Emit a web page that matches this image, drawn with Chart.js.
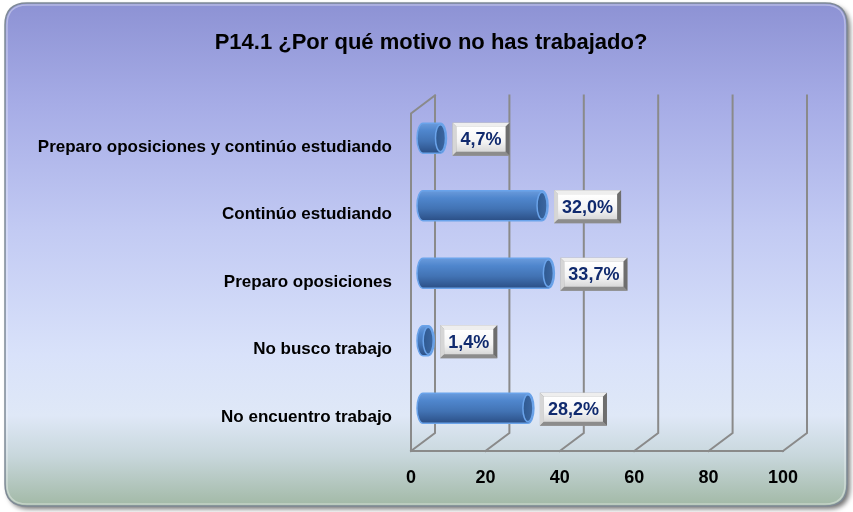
<!DOCTYPE html>
<html>
<head>
<meta charset="utf-8">
<script src="https://cdn.jsdelivr.net/npm/chart.js@4.4.1/dist/chart.umd.min.js"></script>
<style>
  html, body { margin: 0; padding: 0; background: #fff; }
  #wrap { width: 853px; height: 512px; }
</style>
</head>
<body>
<div id="wrap"><canvas id="chart"></canvas></div>
<script>
const categories = [
    'Preparo oposiciones y continúo estudiando',
    'Continúo estudiando',
    'Preparo oposiciones',
    'No busco trabajo',
    'No encuentro trabajo'
];
const values = [4.7, 32.0, 33.7, 1.4, 28.2];
const xTicks = [0, 20, 40, 60, 80, 100];
const titleText = 'P14.1 ¿Por qué motivo no has trabajado?';

const FONT = "'Liberation Sans', Arial, sans-serif";
const DX = 12, DY = 9; // depth offset of the 3d walls

const fmt = (v) => v.toFixed(1).replace('.', ',') + '%';

const roundRect = (ctx, x, y, w, h, r) => {
    ctx.beginPath();
    ctx.moveTo(x + r, y);
    ctx.lineTo(x + w - r, y);
    ctx.quadraticCurveTo(x + w, y, x + w, y + r);
    ctx.lineTo(x + w, y + h - r);
    ctx.quadraticCurveTo(x + w, y + h, x + w - r, y + h);
    ctx.lineTo(x + r, y + h);
    ctx.quadraticCurveTo(x, y + h, x, y + h - r);
    ctx.lineTo(x, y + r);
    ctx.quadraticCurveTo(x, y, x + r, y);
    ctx.closePath();
};

const backgroundPlugin = {
    id: 'bg',
    beforeDraw(chart) {
        const ctx = chart.ctx;
        ctx.save();
        ctx.fillStyle = '#ffffff';
        ctx.fillRect(0, 0, chart.width, chart.height);

        const x = 5, y = 3, w = 842, h = 503;
        ctx.shadowColor = 'rgba(0,0,0,0.55)';
        ctx.shadowBlur = 5;
        ctx.shadowOffsetX = 3;
        ctx.shadowOffsetY = 3;
        roundRect(ctx, x, y, w, h, 22);
        const g = ctx.createLinearGradient(0, y, 0, y + h);
        g.addColorStop(0, '#8d92d4');
        g.addColorStop(0.2, '#a6ace6');
        g.addColorStop(0.45, '#c2caf3');
        g.addColorStop(0.7, '#d9e2fa');
        g.addColorStop(0.82, '#dfe8f7');
        g.addColorStop(0.9, '#c8d7dc');
        g.addColorStop(1, '#a2b9a6');
        ctx.fillStyle = g;
        ctx.fill();
        ctx.shadowColor = 'transparent';
        ctx.lineWidth = 1.5;
        ctx.strokeStyle = '#7f8a96';
        ctx.stroke();

        // light inner rim
        roundRect(ctx, x + 2, y + 2, w - 4, h - 4, 20);
        ctx.lineWidth = 1.5;
        ctx.strokeStyle = 'rgba(255,255,255,0.35)';
        ctx.stroke();
        ctx.restore();
    },
    beforeDatasetsDraw(chart) {
        const ctx = chart.ctx;
        const xs = chart.scales.x;
        const area = chart.chartArea;
        const top = area.top, bottom = area.bottom;
        ctx.save();
        ctx.strokeStyle = '#8a8a8a';
        ctx.lineWidth = 2;
        ctx.lineCap = 'square';
        ctx.beginPath();
        // back wall verticals and floor diagonals
        xs.ticks.forEach(t => {
            const px = xs.getPixelForValue(t.value);
            ctx.moveTo(px + DX, top - DY);
            ctx.lineTo(px + DX, bottom - DY);
            ctx.lineTo(px - DX, bottom + DY);
        });
        // front floor edge
        const x0 = xs.getPixelForValue(xTicks[0]);
        const x1 = xs.getPixelForValue(xTicks[xTicks.length - 1]);
        ctx.moveTo(x0 - DX, bottom + DY);
        ctx.lineTo(x1 - DX, bottom + DY);
        // left side wall
        ctx.moveTo(x0 - DX, bottom + DY);
        ctx.lineTo(x0 - DX, top + DY);
        ctx.lineTo(x0 + DX, top - DY);
        ctx.stroke();
        ctx.restore();
    }
};

const cylinderPlugin = {
    id: 'cylinders',
    afterDatasetsDraw(chart) {
        const ctx = chart.ctx;
        const meta = chart.getDatasetMeta(0);
        ctx.save();
        meta.data.forEach((bar, i) => {
            const { x, y, base, height } = bar.getProps(['x', 'y', 'base', 'height'], true);
            const ry = height / 2, rx = 6;
            const t = y - ry, b = y + ry;

            // body
            const g = ctx.createLinearGradient(0, t, 0, b);
            g.addColorStop(0, '#6a9bdc');
            g.addColorStop(0.25, '#4f86cd');
            g.addColorStop(0.6, '#4273b4');
            g.addColorStop(1, '#2b4f86');
            ctx.beginPath();
            ctx.moveTo(base, t);
            ctx.lineTo(x, t);
            ctx.ellipse(x, y, rx, ry, 0, -Math.PI / 2, Math.PI / 2, false);
            ctx.lineTo(base, b);
            ctx.ellipse(base, y, rx, ry, 0, Math.PI / 2, Math.PI * 1.5, false);
            ctx.closePath();
            ctx.fillStyle = g;
            ctx.fill();
            ctx.lineWidth = 1.5;
            ctx.strokeStyle = '#6aa3ea';
            ctx.stroke();

            // end cap
            ctx.beginPath();
            ctx.ellipse(x, y, rx - 1, ry - 1.5, 0, 0, Math.PI * 2);
            const cg = ctx.createLinearGradient(x - rx, 0, x + rx, 0);
            cg.addColorStop(0, '#2d5890');
            cg.addColorStop(1, '#3e68a2');
            ctx.fillStyle = cg;
            ctx.fill();
            ctx.strokeStyle = '#6aa3ea';
            ctx.lineWidth = 1.5;
            ctx.stroke();

            // value box
            const label = fmt(values[i]);
            ctx.font = 'bold 18px ' + FONT;
            const tw = ctx.measureText(label).width;
            const bw = tw + 16, bh = 33;
            const bx = x + rx + 6, by = y - bh / 2 + 1;
            const bev = 4;
            ctx.fillStyle = '#9a9a9a';
            ctx.fillRect(bx, by, bw, bh);
            const face = (pts, col) => {
                ctx.beginPath();
                ctx.moveTo(pts[0][0], pts[0][1]);
                pts.slice(1).forEach(p => ctx.lineTo(p[0], p[1]));
                ctx.closePath();
                ctx.fillStyle = col;
                ctx.fill();
            };
            face([[bx, by], [bx + bw, by], [bx + bw - bev, by + bev], [bx + bev, by + bev]], '#eeeeee');
            face([[bx, by], [bx + bev, by + bev], [bx + bev, by + bh - bev], [bx, by + bh]], '#d6d6d6');
            face([[bx + bw, by], [bx + bw, by + bh], [bx + bw - bev, by + bh - bev], [bx + bw - bev, by + bev]], '#6e6e6e');
            face([[bx, by + bh], [bx + bev, by + bh - bev], [bx + bw - bev, by + bh - bev], [bx + bw, by + bh]], '#8c8c8c');
            const ig = ctx.createLinearGradient(0, by + bev, 0, by + bh - bev);
            ig.addColorStop(0, '#ffffff');
            ig.addColorStop(0.6, '#f4f4f4');
            ig.addColorStop(1, '#d8d8d8');
            ctx.fillStyle = ig;
            ctx.fillRect(bx + bev, by + bev, bw - 2 * bev, bh - 2 * bev);
            ctx.fillStyle = '#102a6e';
            ctx.textAlign = 'center';
            ctx.textBaseline = 'middle';
            ctx.fillText(label, bx + bw / 2, by + bh / 2 + 1);
        });
        ctx.restore();
    }
};

new Chart(document.getElementById('chart'), {
    type: 'bar',
    data: {
        labels: categories,
        datasets: [{
            data: values,
            backgroundColor: 'rgba(0,0,0,0)',
            borderWidth: 0,
            barThickness: 30
        }]
    },
    options: {
        indexAxis: 'y',
        responsive: true,
        maintainAspectRatio: false,
        animation: false,
        layout: {
            padding: { left: 10, right: 1, top: 0, bottom: 0 }
        },
        plugins: {
            legend: { display: false },
            tooltip: { enabled: false },
            title: {
                display: true,
                text: titleText,
                color: '#000000',
                font: { family: FONT, size: 22, weight: 'bold' },
                padding: { top: 30, bottom: 48 }
            }
        },
        scales: {
            x: {
                min: 0,
                max: 100,
                afterBuildTicks: (s) => { s.ticks = xTicks.map(v => ({ value: v })); },
                afterFit: (s) => { s.height = 70; },
                grid: { display: false, drawTicks: false },
                border: { display: false },
                ticks: {
                    color: '#000000',
                    font: { family: FONT, size: 18, weight: 'bold' },
                    padding: 25,
                    labelOffset: -DX,
                    maxRotation: 0
                }
            },
            y: {
                grid: { display: false, drawTicks: false },
                border: { display: false },
                afterFit: (s) => { s.width = 413; },
                ticks: {
                    color: '#000000',
                    font: { family: FONT, size: 17, weight: 'bold' },
                    padding: 31,
                    labelOffset: DY
                }
            },
            // empty spacer on the right so the plot ends where the reference does
            y2: {
                type: 'category',
                position: 'right',
                grid: { display: false, drawTicks: false },
                border: { display: false },
                ticks: { display: false },
                afterFit: (s) => { s.width = 57; }
            }
        }
    },
    plugins: [backgroundPlugin, cylinderPlugin]
});
</script>
</body>
</html>
